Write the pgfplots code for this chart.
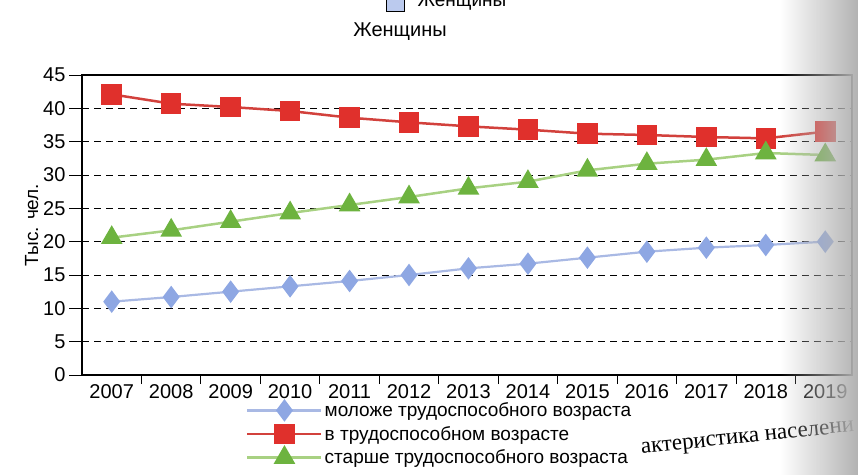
\documentclass[border=0pt]{standalone}
\usepackage{pgfplots}
\pgfplotsset{compat=1.18}
\usepackage{fontspec}
\setmainfont{Liberation Sans}
\newfontfamily\serifcap{Liberation Serif}
\usetikzlibrary{fadings}
\definecolor{bl}{HTML}{8EA7E3}
\definecolor{blline}{HTML}{A9B9E4}
\definecolor{rd}{HTML}{E0302C}
\definecolor{rdline}{HTML}{D2413C}
\definecolor{gr}{HTML}{6DB33F}
\definecolor{grline}{HTML}{A8D182}
\begin{document}
\begin{tikzpicture}[x=1pt,y=1pt]
\path[use as bounding box] (0,0) rectangle (858,475);
\begin{axis}[
  at={(82pt,100pt)}, anchor=south west,
  scale only axis, width=770pt, height=300pt,
  xmin=2006.5, xmax=2019.45, ymin=0, ymax=45,
  xtick={2007,2008,...,2019},
  xticklabels={2007,2008,2009,2010,2011,2012,2013,2014,2015,2016,2017,2018,2019},
  minor xtick={2007.5,2008.5,...,2018.5},
  ytick={0,5,...,45},
  tick align=outside,
  xtick pos=bottom, ytick pos=left,
  major x tick style={draw=none},
  minor x tick style={black, line width=0.9pt},
  minor tick length=9pt,
  major tick length=13pt,
  y tick style={black, line width=0.9pt},
  ymajorgrids,
  grid style={black, dash pattern=on 7pt off 5pt, line width=0.9pt},
  axis line style={black, line width=1.3pt},
  tick label style={font=\fontsize{20}{23}\selectfont},
  xticklabel style={yshift=7pt},
  /pgf/number format/assume math mode=true,
  ylabel={Тыс. чел.},
  ylabel style={font=\fontsize{19}{22}\selectfont, yshift=-2pt},
  legend style={at={(0.213,-0.085)}, anchor=north west, draw=none, fill=none,
    font=\fontsize{19}{22}\selectfont, row sep=4pt, cells={anchor=west}, inner sep=0pt},
  legend image code/.code={\draw[mark repeat=2,mark phase=2,#1] plot coordinates {(0pt,0pt) (37pt,0pt) (74pt,0pt)};},
]
\addplot[color=blline, line width=2.2pt, mark=diamond*, mark size=9.5pt,
  mark options={fill=bl, draw=bl, solid}] coordinates {
  (2007,11.0) (2008,11.7) (2009,12.5) (2010,13.3) (2011,14.1) (2012,15.0) (2013,16.0)
  (2014,16.7) (2015,17.6) (2016,18.5) (2017,19.1) (2018,19.5) (2019,20.0)};
\addlegendentry{моложе трудоспособного возраста}
\addplot[color=rdline, line width=2.5pt, mark=square*, mark size=9pt,
  mark options={fill=rd, draw=rd, solid}] coordinates {
  (2007,42.1) (2008,40.7) (2009,40.2) (2010,39.6) (2011,38.6) (2012,37.9) (2013,37.3)
  (2014,36.8) (2015,36.2) (2016,36.0) (2017,35.7) (2018,35.5) (2019,36.5)};
\addlegendentry{в трудоспособном возрасте}
\addplot[color=grline, line width=2.5pt, mark=triangle*, mark size=10pt,
  mark options={fill=gr, draw=gr, solid}] coordinates {
  (2007,20.6) (2008,21.7) (2009,23.0) (2010,24.3) (2011,25.5) (2012,26.7) (2013,28.0)
  (2014,29.0) (2015,30.7) (2016,31.7) (2017,32.3) (2018,33.3) (2019,33.0)};
\addlegendentry{старше трудоспособного возраста}
\end{axis}
\node[font=\fontsize{20}{23}\selectfont] at (400,443) {Женщины};
\draw[line width=1pt, fill=bl!60] (386,463) rectangle (404,483);
\node[anchor=base west, font=\fontsize{19}{22}\selectfont] at (414,468) {Женщины};
\node[font=\serifcap\fontsize{23}{27}\selectfont, rotate=6, anchor=base east] at (858,44) {актеристика населени};
\fill[black!30, path fading=west] (780,0) rectangle (858,475);
\end{tikzpicture}
\end{document}
